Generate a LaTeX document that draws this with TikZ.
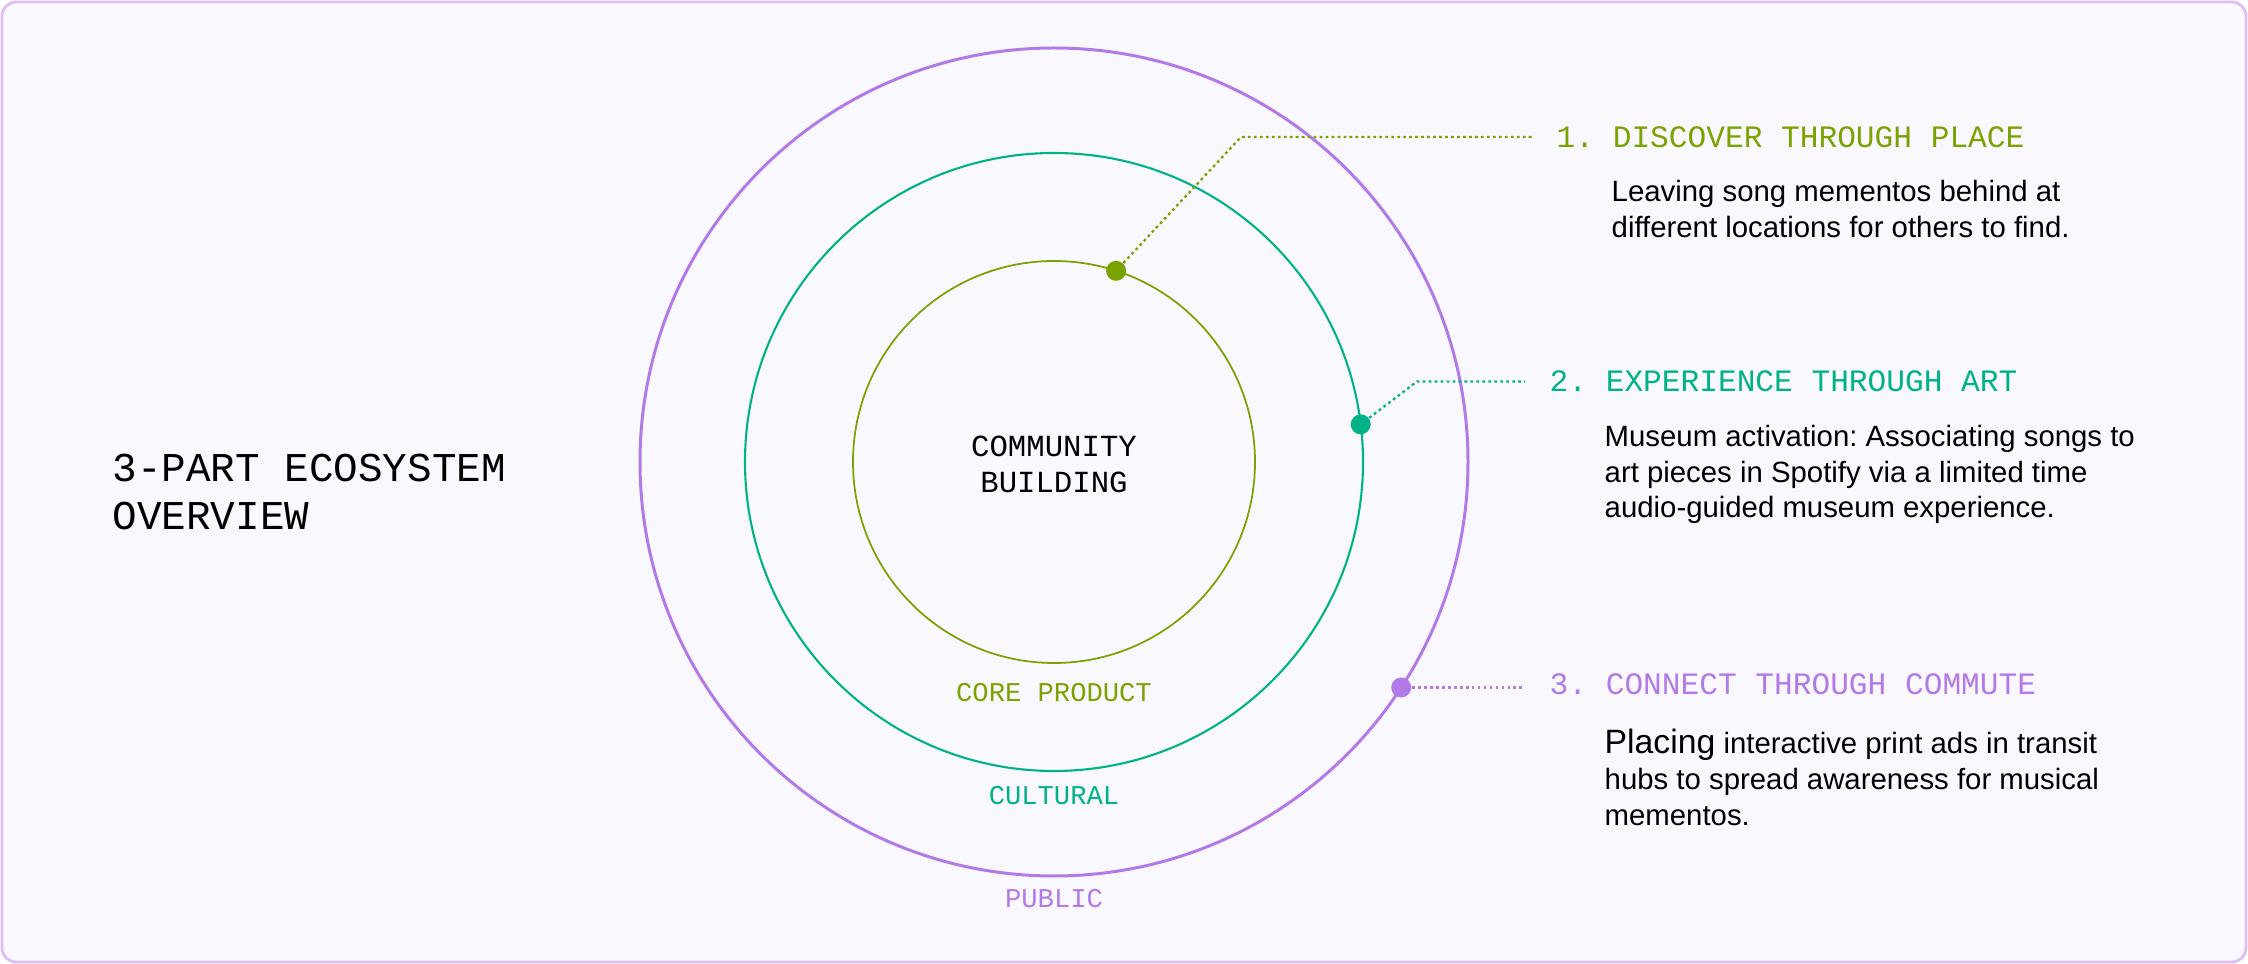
\documentclass[tikz,border=0pt]{standalone}
\usepackage{fontspec}
\setmainfont{Liberation Sans}
\setmonofont{Liberation Mono}
\usetikzlibrary{positioning}
\frenchspacing

\definecolor{coreolive}{RGB}{122,163,0}
\definecolor{cultteal}{RGB}{0,178,135}
\definecolor{pubpurple}{RGB}{178,122,232}
\definecolor{framelilac}{RGB}{221,188,247}
\definecolor{paper}{RGB}{250,248,255}

\begin{document}
\begin{tikzpicture}[
  ring/.style={draw, circle, inner sep=0pt, outer sep=0pt},
  dot/.style={circle, fill, inner sep=0pt, minimum size=0.2cm},
  lead/.style={line width=0.65pt, dash pattern=on 0.8pt off 0.9pt},
  head/.style={font=\ttfamily\fontsize{8.87}{10}\selectfont, inner sep=0pt, anchor=base west},
  ringlabel/.style={font=\ttfamily\fontsize{7.73}{9}\selectfont, inner sep=0pt, anchor=base},
  body/.style={font=\fontsize{8.35}{10.24}\selectfont, align=left, inner sep=0pt, anchor=base west},
]

% Frame
\useasboundingbox (0,0) rectangle (22.48,9.64);
\draw[framelilac, fill=paper, line width=0.8pt, rounded corners=0.14cm] (0.02,0.02) rectangle (22.46,9.62);

% Title (base = last line)
\node[font=\ttfamily\fontsize{11.65}{13.66}\selectfont, align=left, anchor=base west, inner sep=0pt] (title) at (1.12,4.343) {3-PART ECOSYSTEM\\OVERVIEW};

% Rings round the hub
\coordinate (hub) at (10.54,5.02);
\node[ring, coreolive, line width=0.5pt, minimum size=4.02cm] (core) at (hub) {};
\node[ring, cultteal, line width=0.6pt, minimum size=6.18cm] (cult) at (hub) {};
\node[ring, pubpurple, line width=0.85pt, minimum size=8.28cm] (pub) at (hub) {};

\node[font=\ttfamily\fontsize{8.73}{10.33}\selectfont, align=center, anchor=base, inner sep=0pt] (hubtext) at (10.54,4.71) {COMMUNITY\\BUILDING};

\node[ringlabel, coreolive] (lcore) at (10.54,2.623) {CORE PRODUCT};
\node[ringlabel, cultteal] (lcult) at (10.54,1.59) {CULTURAL};
\node[ringlabel, pubpurple] (lpub) at (10.54,0.56) {PUBLIC};

% Touch points
\node[dot, coreolive] (d1) at (core.72) {};
\node[dot, cultteal] (d2) at (cult.7.1) {};
\node[dot, pubpurple] (d3) at (pub.-33.2) {};

% Headings
\node[head, coreolive] (h1) at (15.56,8.167) {1. DISCOVER THROUGH PLACE};
\node[head, cultteal] (h2) at (15.49,5.723) {2. EXPERIENCE THROUGH ART};
\node[head, pubpurple] (h3) at (15.49,2.69) {3. CONNECT THROUGH COMMUTE};

% Leaders: dot -> heading
\coordinate (k1) at (12.41,0 |- h1.west);
\coordinate (k2) at (14.17,0 |- h2.west);
\coordinate (e3) at ([xshift=-2.4mm]h3.west);
\draw[lead, coreolive] (d1) -- (k1) -- ([xshift=-2.4mm]h1.west);
\draw[lead, cultteal] (d2) -- (k2) -- ([xshift=-2.4mm]h2.west);
\draw[lead, pubpurple] (d3) -- (d3 -| e3);

% Descriptions (base = last line)
\node[body] (b1) at (16.11,7.263) {Leaving song mementos behind at\\different locations for others to find.};
\node[body] (b2) at (16.04,4.46) {Museum activation: Associating songs to\\art pieces in Spotify via a limited time\\audio-guided museum experience.};
\node[body] (b3) at (16.04,1.387) {{\fontsize{9.6}{10.24}\selectfont Placing} interactive print ads in transit\\hubs to spread awareness for musical\\mementos.};

\end{tikzpicture}
\end{document}
